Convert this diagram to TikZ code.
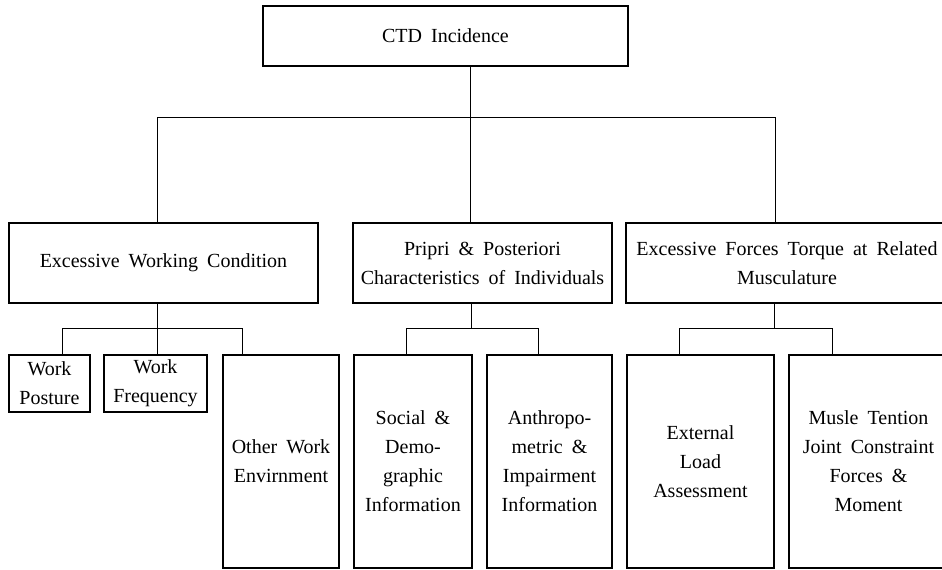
\documentclass[tikz,border=0pt]{standalone}
\usepackage{fontspec}
\setmainfont{Liberation Serif}
\protected\def\mywidespace{\spaceskip=0.45em plus 0.1em\relax}
\begin{document}
\begin{tikzpicture}[x=1pt,y=-1pt,
  box/.style={draw,line width=1.6pt,inner sep=0pt,outer sep=0pt,align=center,
    font=\fontsize{20}{29}\selectfont\mywidespace},
  link/.style={line width=0.8pt}]
\useasboundingbox (0,0) rectangle (942,570);
\clip (0,0) rectangle (942,570);
% level 0
\node[box,minimum width=365pt,minimum height=60pt] (ctd) at (445.5,36) {CTD Incidence};
% level 1
\node[box,minimum width=309pt,minimum height=80pt] (ewc) at (163.5,263) {Excessive Working Condition};
\node[box,minimum width=259pt,minimum height=80pt] (pri) at (482.5,263) {Pripri \& Posteriori\\Characteristics of Individuals};
\node[box,minimum width=322pt,minimum height=80pt] (ef) at (787,263) {Excessive Forces Torque at Related\\Musculature};
% level 2
\node[box,minimum width=81pt,minimum height=57pt] (wp) at (49.5,383.5) {Work\\Posture};
\node[box,minimum width=103pt,minimum height=57pt] (wf) at (155.5,383.5) {Work\\Frequency};
\node[box,minimum width=116pt,minimum height=213pt] (ow) at (281,461.5) {Other Work\\Envirnment};
\node[box,minimum width=118pt,minimum height=213pt] (soc) at (413,461.5) {Social \&\\Demo-\\graphic\\Information};
\node[box,minimum width=125pt,minimum height=213pt] (ant) at (549.5,461.5) {Anthropo-\\metric \&\\Impairment\\Information};
\node[box,minimum width=147pt,minimum height=213pt] (ext) at (700.5,461.5) {External\\Load\\Assessment};
\node[box,minimum width=159pt,minimum height=213pt] (mus) at (868.5,461.5) {Musle Tention\\Joint Constraint\\Forces \&\\Moment};
% connectors level 0 -> 1
\coordinate (t0) at (470,117);
\coordinate (t1) at (157,117);
\coordinate (t3) at (775,117);
\draw[link] (ctd.south -| t0) -- (pri.north -| t0);
\draw[link] (t1) -- (t3);
\draw[link] (t1) -- (ewc.north -| t1);
\draw[link] (t3) -- (ef.north -| t3);
% connectors under ewc
\coordinate (a0) at (157,328);
\coordinate (a1) at (62,328);
\coordinate (a3) at (242,328);
\draw[link] (ewc.south -| a0) -- (wf.north -| a0);
\draw[link] (a1) -- (a3);
\draw[link] (a1) -- (wp.north -| a1);
\draw[link] (a3) -- (ow.north -| a3);
% connectors under pri
\coordinate (b0) at (471,328);
\coordinate (b1) at (406,328);
\coordinate (b2) at (538,328);
\draw[link] (pri.south -| b0) -- (b0);
\draw[link] (b1) -- (b2);
\draw[link] (b1) -- (soc.north -| b1);
\draw[link] (b2) -- (ant.north -| b2);
% connectors under ef
\coordinate (c0) at (774,328);
\coordinate (c1) at (679,328);
\coordinate (c2) at (832,328);
\draw[link] (ef.south -| c0) -- (c0);
\draw[link] (c1) -- (c2);
\draw[link] (c1) -- (ext.north -| c1);
\draw[link] (c2) -- (mus.north -| c2);
\end{tikzpicture}
\end{document}
